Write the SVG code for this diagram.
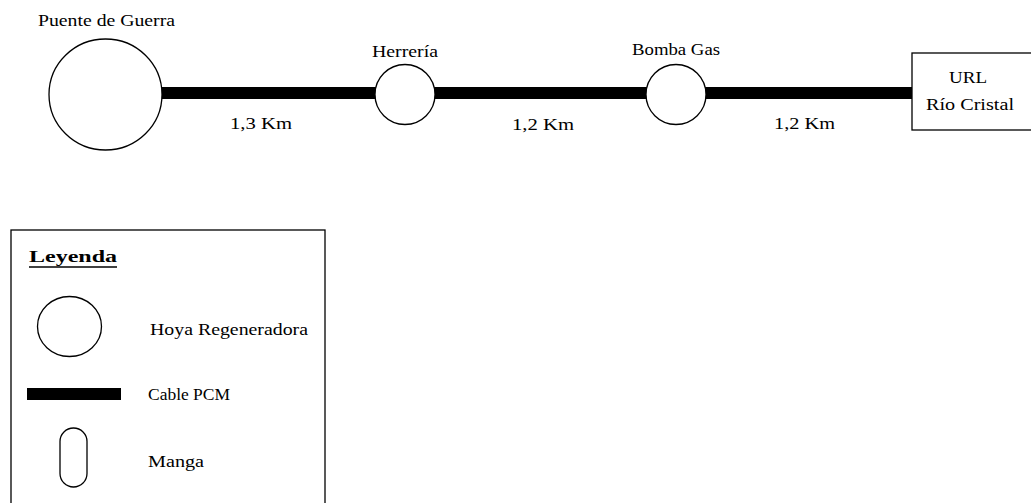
<svg xmlns="http://www.w3.org/2000/svg" width="1031" height="503" viewBox="0 0 1031 503">
<style>
text { font-family: "Liberation Serif", "Times New Roman", serif; font-size: 16px; fill: #000; }
.node { fill: #fff; stroke: #000; stroke-width: 1.3; }
.cable { stroke: #000; stroke-width: 12; fill: none; }
</style>
<rect x="0" y="0" width="1031" height="503" fill="#fff"/>
<g id="connectors">
  <line class="cable" x1="161" y1="93" x2="376" y2="93"/>
  <line class="cable" x1="434" y1="93" x2="647" y2="93"/>
  <line class="cable" x1="705" y1="93" x2="912" y2="93"/>
  <text x="230" y="129" textLength="62" lengthAdjust="spacingAndGlyphs">1,3 Km</text>
  <text x="512" y="130" textLength="62" lengthAdjust="spacingAndGlyphs">1,2 Km</text>
  <text x="774" y="129" textLength="61" lengthAdjust="spacingAndGlyphs">1,2 Km</text>
</g>
<g id="puente">
  <ellipse class="node" cx="105.5" cy="94.5" rx="56.5" ry="55.5"/>
  <text x="38" y="26" textLength="137" lengthAdjust="spacingAndGlyphs">Puente de Guerra</text>
</g>
<g id="herreria">
  <circle class="node" cx="405" cy="94.5" r="30"/>
  <text x="372" y="57" textLength="66" lengthAdjust="spacingAndGlyphs">Herrería</text>
</g>
<g id="bomba">
  <circle class="node" cx="676" cy="94.5" r="30"/>
  <text x="632" y="55" textLength="88" lengthAdjust="spacingAndGlyphs">Bomba Gas</text>
</g>
<g id="url">
  <rect class="node" x="912" y="53" width="130" height="77"/>
  <text x="949" y="83" textLength="38" lengthAdjust="spacingAndGlyphs">URL</text>
  <text x="926" y="110" textLength="88" lengthAdjust="spacingAndGlyphs">Río Cristal</text>
</g>
<g id="leyenda">
  <rect class="node" x="11" y="230" width="314" height="290"/>
  <text x="29" y="262" textLength="88" lengthAdjust="spacingAndGlyphs" font-weight="bold">Leyenda</text>
  <line x1="29" y1="267" x2="117" y2="267" stroke="#000" stroke-width="1.3"/>
  <ellipse class="node" cx="69.5" cy="326.5" rx="32" ry="30"/>
  <text x="150" y="335" textLength="158" lengthAdjust="spacingAndGlyphs">Hoya Regeneradora</text>
  <rect x="27" y="388" width="94" height="12" fill="#000"/>
  <text x="148" y="400" textLength="82" lengthAdjust="spacingAndGlyphs">Cable PCM</text>
  <rect class="node" x="60" y="428" width="27" height="59" rx="13.5" ry="13.5"/>
  <text x="148" y="467" textLength="56" lengthAdjust="spacingAndGlyphs">Manga</text>
</g>
</svg>
